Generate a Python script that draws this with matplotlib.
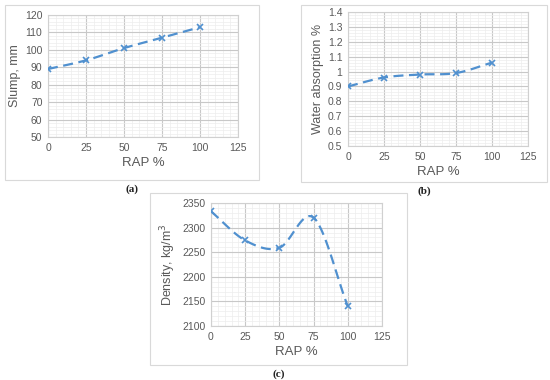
import numpy as np
import matplotlib
matplotlib.use("Agg")
import matplotlib.pyplot as plt
from matplotlib.patches import Rectangle
from matplotlib.ticker import MultipleLocator

# data
rap = [0, 25, 50, 75, 100]
slump = [89, 94, 101, 107, 113]
water_abs = [0.90, 0.96, 0.98, 0.99, 1.06]
density = [2333, 2274, 2259, 2320, 2140]

x_ticks = [0, 25, 50, 75, 100, 125]

LINE_COLOR = "#5090cf"
TEXT_COLOR = "#595959"
plt.rcParams["font.family"] = ["Liberation Sans", "DejaVu Sans"]


def smooth_curve(x, y, n=30):
    # Excel-like smoothed line (Catmull-Rom through the data points)
    x = np.asarray(x, float)
    y = np.asarray(y, float)
    px = np.concatenate([[2 * x[0] - x[1]], x, [2 * x[-1] - x[-2]]])
    py = np.concatenate([[2 * y[0] - y[1]], y, [2 * y[-1] - y[-2]]])
    xs, ys = [], []
    t = np.linspace(0, 1, n)
    for i in range(1, len(px) - 2):
        for p, out in ((px, xs), (py, ys)):
            p0, p1, p2, p3 = p[i - 1], p[i], p[i + 1], p[i + 2]
            out.extend(0.5 * ((2 * p1) + (-p0 + p2) * t
                              + (2 * p0 - 5 * p1 + 4 * p2 - p3) * t ** 2
                              + (-p0 + 3 * p1 - 3 * p2 + p3) * t ** 3))
    return np.array(xs), np.array(ys)


def px_axes(fig, left, top, right, bottom):
    W, H = 550, 380
    return fig.add_axes([left / W, 1 - bottom / H, (right - left) / W, (bottom - top) / H])


def draw_panel(fig, box, ax_box, y, ylim, ymajor, yminor, ylabel, caption, ylabels=None):
    W, H = 550, 380
    l, t, r, b = box
    fig.patches.append(Rectangle((l / W, 1 - b / H), (r - l) / W, (b - t) / H,
                                 transform=fig.transFigure, fill=False,
                                 edgecolor="#d9d9d9", linewidth=0.8))
    ax = px_axes(fig, *ax_box)
    sx, sy = smooth_curve(rap, y)
    ax.plot(sx, sy, color=LINE_COLOR, linestyle=(0, (4.5, 2.5)), linewidth=1.6, zorder=3)
    ax.plot(rap, y, linestyle="none", marker="x", markersize=5, markeredgewidth=1.2,
            color=LINE_COLOR, zorder=4)
    ax.set_xlim(0, 125)
    ax.set_ylim(*ylim)
    ax.set_xticks(x_ticks)
    ax.xaxis.set_minor_locator(MultipleLocator(5))
    ax.yaxis.set_major_locator(MultipleLocator(ymajor))
    ax.yaxis.set_minor_locator(MultipleLocator(yminor))
    if ylabels is not None:
        ax.set_yticks(ylabels[0])
        ax.set_yticklabels(ylabels[1])
    ax.grid(which="major", color="#c8c8c8", linewidth=0.8)
    ax.grid(which="minor", color="#ededed", linewidth=0.5)
    ax.set_axisbelow(True)
    for s in ax.spines.values():
        s.set_color("#d0d0d0")
        s.set_linewidth(0.8)
    ax.tick_params(which="both", length=0, labelsize=7.5, colors=TEXT_COLOR, pad=4)
    ax.set_xlabel("RAP %", fontsize=9.5, color=TEXT_COLOR, labelpad=3)
    ax.set_ylabel(ylabel, fontsize=9, color=TEXT_COLOR, labelpad=3)
    fig.text((l + r) / 2 / W, 1 - (b + 9) / H, caption, ha="center", va="center",
             fontsize=8, fontweight="bold", family="Liberation Serif", color="#222222")
    return ax


fig = plt.figure(figsize=(5.5, 3.8), dpi=100)

draw_panel(fig, (5, 5, 259, 180), (48, 15, 238, 137), slump, (50, 120), 10, 2,
           "Slump, mm", "(a)")

wa_ticks = [0.5, 0.6, 0.7, 0.8, 0.9, 1.0, 1.1, 1.2, 1.3, 1.4]
wa_labels = ["0.5", "0.6", "0.7", "0.8", "0.9", "1", "1.1", "1.2", "1.3", "1.4"]
draw_panel(fig, (301, 5, 547, 182), (348, 12, 528, 146), water_abs, (0.5, 1.4), 0.1, 0.02,
           "Water absorption %", "(b)", ylabels=(wa_ticks, wa_labels))

draw_panel(fig, (150, 193, 407, 365), (211, 203, 382, 326), density, (2100, 2350), 50, 10,
           "Density, kg/m$^3$", "(c)")

fig.savefig("out.png", dpi=100)
